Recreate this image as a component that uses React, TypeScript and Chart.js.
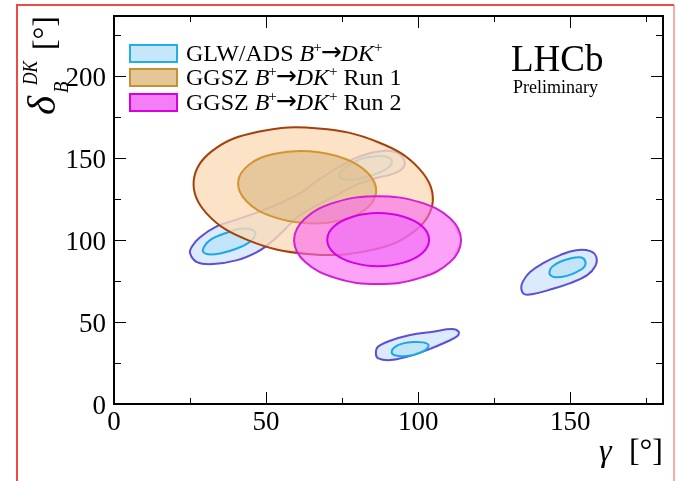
import React, { useEffect, useRef } from 'react';
import { Chart, registerables } from 'chart.js';

Chart.register(...registerables);

type P = [number, number];

// ---- axis ticks / labels ----
const xMajorTicks = [0, 50, 100, 150];
const xMinorTicks = [25, 75, 125, 175];
const xTickLabels = ['0', '50', '100', '150'];
const yMajorTicks = [0, 50, 100, 150, 200];
const yMinorTicks = [25, 75, 125, 175, 225];
const yTickLabels = ['0', '50', '100', '150', '200'];
const xRange = [0, 180.5];
const yRange = [0, 236.8];

// ---- contours (gamma [deg], delta_B [deg]) ----
const ggszRun1Outer: P[] = [[104.8,123.5],[98.6,105.2],[83.6,93.5],[63.7,91.6],[44.2,99.9],[30.5,116.2],[26.2,136.2],[32.3,154.5],[47.4,166.2],[67.3,168.2],[86.7,159.9],[100.4,143.5]];
const ggszRun1Inner: P[] = [[86.2,129.4],[82.7,118.8],[74.1,111.9],[62.7,110.4],[51.4,114.8],[43.5,123.9],[40.8,135.2],[44.3,145.9],[52.9,152.7],[64.3,154.2],[75.6,149.8],[83.6,140.7]];
const ggszRun2Outer: P[] = [[114.1,100.0],[110.5,86.6],[100.4,76.8],[86.7,73.2],[73.0,76.8],[62.9,86.6],[59.2,100.0],[62.9,113.4],[73.0,123.2],[86.7,126.8],[100.4,123.2],[110.5,113.4]];
const ggszRun2Inner: P[] = [[103.6,100.3],[101.4,92.2],[95.2,86.3],[86.8,84.1],[78.5,86.3],[72.3,92.2],[70.1,100.3],[72.3,108.4],[78.5,114.3],[86.8,116.5],[95.2,114.3],[101.4,108.4]];
const glwOuterBand: P[] = [[95.1,150.0],[95.4,145.1],[92.4,140.9],[85.9,137.8],[78.6,132.9],[72.0,126.2],[65.5,120.1],[60.2,114.0],[55.9,106.1],[51.3,98.2],[47.0,92.7],[40.5,87.8],[32.6,85.4],[27.3,86.6],[25.0,92.1],[25.7,96.3],[28.3,101.8],[33.9,108.5],[39.8,112.2],[46.4,116.5],[53.0,121.3],[61.2,128.7],[67.1,136.6],[74.3,145.1],[80.9,151.2],[87.5,154.3],[92.4,153.7]];
const glwOuterRight: P[] = [[134.9,67.1],[133.9,70.7],[134.5,75.0],[136.8,80.5],[141.1,86.0],[146.7,90.9],[152.0,93.9],[156.6,93.3],[158.6,89.6],[158.2,84.1],[155.6,78.7],[150.0,73.8],[142.8,69.5],[137.8,67.1]];
const glwOuterBottom: P[] = [[86.1,30.9],[86.8,34.9],[90.8,38.6],[97.4,42.1],[104.9,44.1],[111.1,45.7],[113.3,44.1],[112.9,41.5],[109.4,38.0],[102.9,32.9],[96.3,28.8],[90.8,26.8],[86.9,27.9]];
const glwInnerLeft: P[] = [[29.2,93.9],[31.6,100.0],[37.1,104.5],[42.5,107.1],[46.4,105.1],[45.3,100.0],[40.4,94.9],[34.9,91.9],[30.5,91.5]];
const glwInnerUpper: P[] = [[74.0,139.6],[76.6,145.1],[80.9,149.4],[85.9,151.2],[90.1,150.6],[91.4,147.6],[89.5,143.3],[84.9,139.6],[79.6,137.2],[75.3,137.2]];
const glwInnerRight: P[] = [[143.2,80.7],[144.0,83.7],[146.7,86.8],[150.0,88.8],[153.3,89.5],[154.9,87.4],[154.6,83.7],[152.2,80.7],[148.9,78.2],[145.1,77.3],[143.4,78.7]];
const glwInnerBottom: P[] = [[91.3,32.0],[92.4,34.9],[95.1,37.0],[98.4,37.8],[101.6,37.6],[103.4,36.0],[102.3,32.9],[99.0,30.3],[95.2,29.1],[92.1,29.9]];

const legendLabels = ['GLW/ADS', 'GGSZ', 'GGSZ'];
const legendSuffix = ['', ' Run 1', ' Run 2'];

const SERIF = '"Liberation Serif", "Times New Roman", serif';

const C = {
  glwOuterLine: '#5a4fd6',
  glwOuterFill: '#dbeafc',
  glwInnerLine: '#1aa9e6',
  glwInnerFill: '#c2e4f8',
  r1OuterLine: '#a3400c',
  r1OuterFill: 'rgba(251,219,184,0.8)',
  r1InnerLine: '#d3952f',
  r1InnerFill: 'rgba(219,184,130,0.6)',
  r2OuterLine: '#d21fd4',
  r2OuterFill: 'rgba(250,102,242,0.6)',
  r2InnerLine: '#d400e6',
  r2InnerFill: 'rgba(240,105,249,0.6)',
};

function contour(pts: P[], border: string, fill: string, order: number) {
  const n = pts.length;
  const wrapped = [pts[n - 1], ...pts, pts[0], pts[1]];
  const last = wrapped.length - 1;
  return {
    data: wrapped.map(([x, y]) => ({ x, y })),
    borderColor: border,
    backgroundColor: fill,
    borderWidth: 2,
    fill: 'shape',
    tension: 0.4,
    pointRadius: 0,
    pointHoverRadius: 0,
    order,
    segment: {
      borderColor: (c: any) => (c.p0DataIndex === 0 || c.p1DataIndex === last ? 'rgba(0,0,0,0)' : undefined),
    },
  };
}

type Seg = { t: string; f: string; dy?: number; dx?: number };
function drawRich(ctx: CanvasRenderingContext2D, segs: Seg[], x: number, y: number) {
  let cx = x;
  for (const s of segs) {
    ctx.font = s.f;
    cx += s.dx || 0;
    ctx.fillText(s.t, cx, y + (s.dy || 0));
    cx += ctx.measureText(s.t).width;
  }
}

const overlay = {
  id: 'lhcbOverlay',
  afterDraw(chart: any) {
    const ctx: CanvasRenderingContext2D = chart.ctx;
    const a = chart.chartArea;
    const xs = chart.scales.x;
    const ys = chart.scales.y;
    ctx.save();

    // ticks (inside the frame, on all four sides)
    ctx.strokeStyle = '#000';
    ctx.lineWidth = 1;
    ctx.beginPath();
    const xt = (vals: number[], len: number) => {
      for (const v of vals) {
        const px = Math.round(xs.getPixelForValue(v)) + 0.5;
        ctx.moveTo(px, a.bottom); ctx.lineTo(px, a.bottom - len);
        ctx.moveTo(px, a.top); ctx.lineTo(px, a.top + len);
      }
    };
    const yt = (vals: number[], len: number) => {
      for (const v of vals) {
        const py = Math.round(ys.getPixelForValue(v)) + 0.5;
        ctx.moveTo(a.left, py); ctx.lineTo(a.left + len, py);
        ctx.moveTo(a.right, py); ctx.lineTo(a.right - len, py);
      }
    };
    xt(xMajorTicks, 12); xt(xMinorTicks, 6);
    yt(yMajorTicks, 12); yt(yMinorTicks, 7);
    ctx.stroke();

    // frame
    ctx.lineWidth = 2;
    ctx.strokeRect(a.left, a.top, a.right - a.left, a.bottom - a.top);

    // tick labels
    ctx.fillStyle = '#000';
    ctx.font = `27px ${SERIF}`;
    ctx.textBaseline = 'alphabetic';
    ctx.textAlign = 'center';
    xMajorTicks.forEach((v, i) => ctx.fillText(xTickLabels[i], xs.getPixelForValue(v), 430));
    ctx.textAlign = 'right';
    yMajorTicks.forEach((v, i) => ctx.fillText(yTickLabels[i], 106, ys.getPixelForValue(v) + 10));

    // x title
    ctx.textAlign = 'left';
    ctx.font = `italic 32px ${SERIF}`;
    ctx.fillText('γ', 599, 461);
    ctx.textAlign = 'right';
    ctx.font = `32px ${SERIF}`;
    ctx.fillText('[°]', 663, 461);

    // y title (rotated)
    ctx.save();
    ctx.translate(55, 114);
    ctx.rotate(-Math.PI / 2);
    ctx.textAlign = 'left';
    ctx.font = `italic 41px ${SERIF}`;
    ctx.fillText('δ', -1, 0);
    ctx.font = `italic 22px ${SERIF}`;
    ctx.save();
    ctx.translate(21, 13);
    ctx.scale(0.85, 1);
    ctx.fillText('B', 0, 0);
    ctx.restore();
    ctx.save();
    ctx.translate(29, -18);
    ctx.scale(0.78, 1);
    ctx.fillText('DK', 0, 0);
    ctx.restore();
    ctx.textAlign = 'right';
    ctx.font = `32px ${SERIF}`;
    ctx.fillText('[°]', 98, 0);
    ctx.restore();

    // legend
    ctx.textAlign = 'left';
    const boxes = [
      { fill: '#c6e6f9', line: '#22aee8', top: 45 },
      { fill: '#e5c697', line: '#c99030', top: 69 },
      { fill: '#f47ef5', line: '#d800e0', top: 94 },
    ];
    const f = `24px ${SERIF}`;
    const fi = `italic 24px ${SERIF}`;
    const fs = `15px ${SERIF}`;
    const fa = `25px "DejaVu Sans", ${SERIF}`;
    boxes.forEach((b, i) => {
      ctx.fillStyle = b.fill;
      ctx.fillRect(130, b.top, 47, 17);
      ctx.strokeStyle = b.line;
      ctx.lineWidth = 2;
      ctx.strokeRect(130, b.top, 47, 17);
      ctx.fillStyle = '#000';
      const segs: Seg[] = [
        { t: legendLabels[i] + ' ', f },
        { t: 'B', f: fi },
        { t: '+', f: fs, dy: -9, dx: -1 },
        { t: '→', f: fa, dy: -1, dx: -1 },
        { t: 'DK', f: fi, dx: -1 },
        { t: '+', f: fs, dy: -9 },
      ];
      if (legendSuffix[i]) segs.push({ t: legendSuffix[i], f });
      drawRich(ctx, segs, 186, b.top + 16);
    });

    // LHCb label
    ctx.font = `37px ${SERIF}`;
    ctx.fillText('LHCb', 511, 71);
    ctx.font = `18px ${SERIF}`;
    ctx.fillText('Preliminary', 513, 93);

    // red outer border
    ctx.lineWidth = 2;
    ctx.strokeStyle = '#ee4a4a';
    ctx.beginPath();
    ctx.moveTo(17, 490); ctx.lineTo(17, 5); ctx.lineTo(674, 5);
    ctx.stroke();
    ctx.strokeStyle = 'rgba(238,74,74,0.45)';
    ctx.beginPath();
    ctx.moveTo(674, 5); ctx.lineTo(674, 490);
    ctx.stroke();

    ctx.restore();
  },
};

export default function App() {
  const ref = useRef<HTMLCanvasElement | null>(null);
  useEffect(() => {
    if (!ref.current) return;
    const datasets: any[] = [
      contour(glwOuterBand, C.glwOuterLine, C.glwOuterFill, 7),
      contour(glwOuterRight, C.glwOuterLine, C.glwOuterFill, 7),
      contour(glwOuterBottom, C.glwOuterLine, C.glwOuterFill, 7),
      contour(glwInnerLeft, C.glwInnerLine, C.glwInnerFill, 6),
      contour(glwInnerUpper, C.glwInnerLine, C.glwInnerFill, 6),
      contour(glwInnerRight, C.glwInnerLine, C.glwInnerFill, 6),
      contour(glwInnerBottom, C.glwInnerLine, C.glwInnerFill, 6),
      contour(ggszRun1Outer, C.r1OuterLine, C.r1OuterFill, 4),
      contour(ggszRun1Inner, C.r1InnerLine, C.r1InnerFill, 3),
      contour(ggszRun2Outer, C.r2OuterLine, C.r2OuterFill, 2),
      contour(ggszRun2Inner, C.r2InnerLine, C.r2InnerFill, 1),
    ];
    const chart = new Chart(ref.current, {
      type: 'line',
      data: { datasets },
      options: {
        animation: false,
        responsive: false,
        layout: { padding: { left: 114, right: 13, top: 16, bottom: 77 } },
        plugins: { legend: { display: false }, tooltip: { enabled: false } },
        events: [],
        scales: {
          x: { type: 'linear', min: xRange[0], max: xRange[1], display: false },
          y: { type: 'linear', min: yRange[0], max: yRange[1], display: false },
        },
      },
      plugins: [overlay],
    } as any);
    return () => chart.destroy();
  }, []);
  return (
    <div style={{ position: 'fixed', left: 0, top: 0, width: 676, height: 481, background: '#fff' }}>
      <canvas ref={ref} width={676} height={481} style={{ display: 'block' }} />
    </div>
  );
}
